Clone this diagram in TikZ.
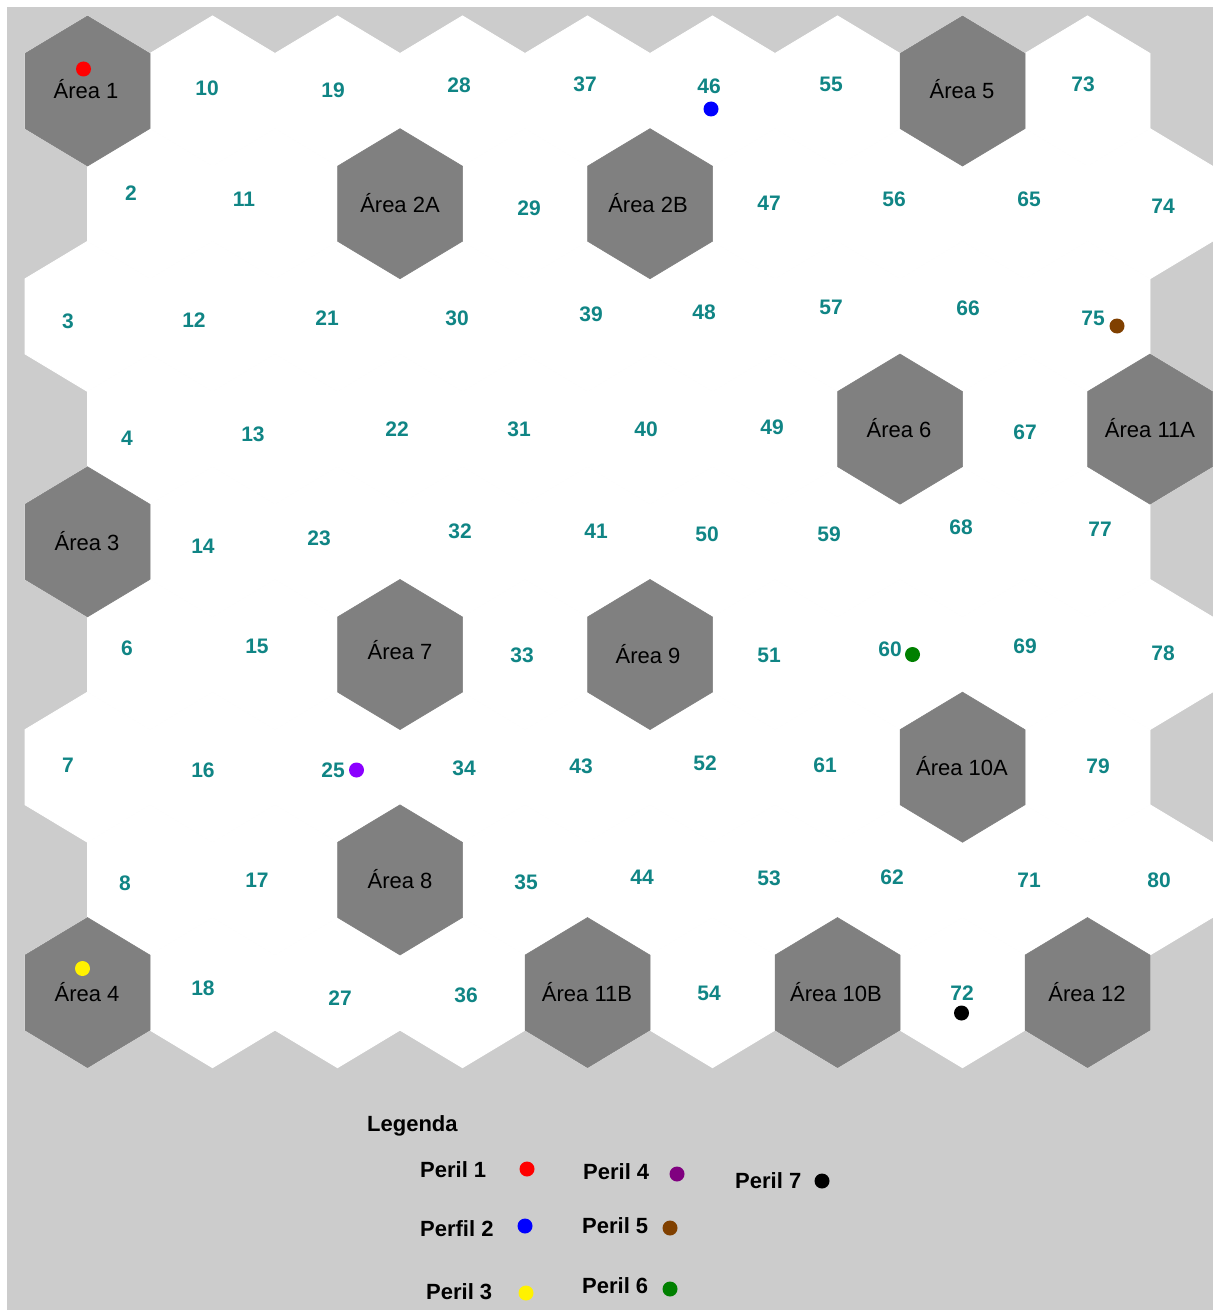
\documentclass[tikz,border=0pt]{standalone}
\usepackage{fontspec}
\setmainfont{Liberation Sans}
\definecolor{bggray}{HTML}{CCCCCC}
\definecolor{hexdark}{HTML}{808080}
\definecolor{numteal}{HTML}{108585}
\definecolor{pviolet}{HTML}{8B00FF}
\definecolor{ppurple}{HTML}{800080}
\definecolor{pbrown}{HTML}{804000}
\definecolor{pgreen}{HTML}{008000}
\begin{document}
\begin{tikzpicture}[x=1pt,y=-1pt,
  num/.style={font=\fontsize{21}{21}\selectfont\bfseries, text=numteal, inner sep=0pt, anchor=center},
  arealbl/.style={font=\fontsize{22}{22}\selectfont, text=black, inner sep=0pt, anchor=base},
  leg/.style={font=\fontsize{22}{22}\selectfont\bfseries, text=black, inner sep=0pt, anchor=base west},
  pdot/.style={circle, inner sep=0pt, minimum size=15pt}
]
\useasboundingbox (0,0) rectangle (1215,1311);
\fill[white] (0,0) rectangle (1215,1311);
\fill[bggray] (7,7) rectangle (1213,1310);
% white hex cells
\foreach \r in {0,...,8}{
  \foreach \c in {0,...,8}{
    \pgfmathsetmacro\hx{87.5+125*\c+62.5*mod(\r,2)}
    \pgfmathsetmacro\hy{91+112.7*\r}
    \filldraw[white, line width=0.8pt] (\hx,\hy) ++(0,-75.1) -- ++(62.5,37.55) -- ++(0,75.1) -- ++(-62.5,37.55) -- ++(-62.5,-37.55) -- ++(0,-75.1) -- cycle;
  }
}
% dark area hexes
\foreach \r/\c in {0/0,0/7,1/2,1/4,3/6,3/8,4/0,5/2,5/4,6/7,7/2,8/0,8/4,8/6,8/8}{
    \pgfmathsetmacro\hx{87.5+125*\c+62.5*mod(\r,2)}
    \pgfmathsetmacro\hy{91+112.7*\r}
    \filldraw[hexdark, line width=0.5pt] (\hx,\hy) ++(0,-75.1) -- ++(62.5,37.55) -- ++(0,75.1) -- ++(-62.5,37.55) -- ++(-62.5,-37.55) -- ++(0,-75.1) -- cycle;
}
% area labels
\node[arealbl] (a1) at (86,99) {Área 1};
\node[arealbl] (a2A) at (400,212) {Área 2A};
\node[arealbl] (a2B) at (648,212) {Área 2B};
\node[arealbl] (a5) at (962,99) {Área 5};
\node[arealbl] (a6) at (899,437) {Área 6};
\node[arealbl] (a11A) at (1150,437) {Área 11A};
\node[arealbl] (a3) at (87,550) {Área 3};
\node[arealbl] (a7) at (400,659) {Área 7};
\node[arealbl] (a9) at (648,663) {Área 9};
\node[arealbl] (a10A) at (962,775) {Área 10A};
\node[arealbl] (a8) at (400,888) {Área 8};
\node[arealbl] (a4) at (87,1001) {Área 4};
\node[arealbl] (a11B) at (587,1001) {Área 11B};
\node[arealbl] (a10B) at (836,1001) {Área 10B};
\node[arealbl] (a12) at (1087,1001) {Área 12};
% cell numbers
\foreach \n/\x/\y in {
  10/207/88, 19/333/90, 28/459/85, 37/585/84, 46/709/86, 55/831/84, 73/1083/84,
  2/131/193, 11/244/199, 29/529/208, 47/769/203, 56/894/199, 65/1029/199, 74/1163/206,
  3/68/321, 12/194/320, 21/327/318, 30/457/318, 39/591/314, 48/704/312, 57/831/307, 66/968/308, 75/1093/318,
  4/127/438, 13/253/434, 22/397/429, 31/519/429, 40/646/429, 49/772/427, 67/1025/432,
  14/203/546, 23/319/538, 32/460/531, 41/596/531, 50/707/534, 59/829/534, 68/961/527, 77/1100/529,
  6/127/648, 15/257/646, 33/522/655, 51/769/655, 60/890/649, 69/1025/646, 78/1163/653,
  7/68/765, 16/203/770, 25/333/770, 34/464/768, 43/581/766, 52/705/763, 61/825/765, 79/1098/766,
  8/125/883, 17/257/880, 35/526/882, 44/642/877, 53/769/878, 62/892/877, 71/1029/880, 80/1159/880,
  18/203/988, 27/340/998, 36/466/995, 54/709/993, 72/962/993}{
  \node[num] (n\n) at (\x,\y) {\n};
}
% profile dots on map
\node[pdot, fill=red] (d1) at (83.5,69) {};
\node[pdot, fill=blue] (d2) at (711,109) {};
\node[pdot, fill=pbrown] (d5) at (1117,326) {};
\node[pdot, fill=pviolet] (d4) at (356.5,770) {};
\node[pdot, fill=pgreen] (d6) at (912.5,654.5) {};
\node[pdot, fill=yellow] (d3) at (82.5,968.5) {};
\node[pdot, fill=black] (d7) at (961.5,1013) {};
% legend
\node[leg] (legtitle) at (367,1131) {Legenda};
\node[leg] (l1) at (420,1177) {Peril 1};
\node[leg] (l2) at (420,1236) {Perfil 2};
\node[leg] (l3) at (426,1299) {Peril 3};
\node[leg] (l4) at (583,1179) {Peril 4};
\node[leg] (l5) at (582,1233) {Peril 5};
\node[leg] (l6) at (582,1293) {Peril 6};
\node[leg] (l7) at (735,1188) {Peril 7};
\node[pdot, fill=red] (ld1) at (527,1169) {};
\node[pdot, fill=blue] (ld2) at (525,1226) {};
\node[pdot, fill=yellow] (ld3) at (526,1293) {};
\node[pdot, fill=ppurple] (ld4) at (677,1174) {};
\node[pdot, fill=pbrown] (ld5) at (670,1228) {};
\node[pdot, fill=pgreen] (ld6) at (670,1289) {};
\node[pdot, fill=black] (ld7) at (822,1181) {};
\end{tikzpicture}
\end{document}
